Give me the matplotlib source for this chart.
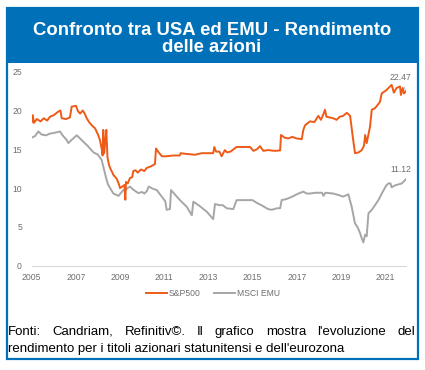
import matplotlib
matplotlib.use("Agg")
import matplotlib.pyplot as plt
from matplotlib.patches import Rectangle

plt.rcParams["font.family"] = ["Liberation Sans", "DejaVu Sans"]

# S&P500 earnings yield (decimal year, %)
sp_years = [2005.00, 2005.05, 2005.10, 2005.23, 2005.40, 2005.55, 2005.70, 2005.83,
            2006.00, 2006.20, 2006.30, 2006.36, 2006.55, 2006.73, 2006.81, 2007.00,
            2007.10, 2007.19, 2007.31, 2007.40, 2007.49, 2007.60, 2007.72, 2007.87,
            2008.00, 2008.09, 2008.18, 2008.21, 2008.24, 2008.28, 2008.33, 2008.38,
            2008.43, 2008.50, 2008.55, 2008.70, 2008.85, 2008.95, 2009.00, 2009.10,
            2009.20, 2009.24, 2009.27, 2009.35, 2009.45, 2009.55, 2009.60, 2009.70,
            2009.80, 2009.95, 2010.10, 2010.21, 2010.40, 2010.58, 2010.63, 2010.75,
            2010.90, 2011.10, 2011.40, 2011.70, 2011.75, 2012.02, 2012.40, 2012.70,
            2013.00, 2013.22, 2013.27, 2013.35, 2013.50, 2013.60, 2013.75, 2013.85,
            2014.00, 2014.28, 2014.60, 2014.89, 2015.04, 2015.20, 2015.34, 2015.49,
            2015.70, 2016.00, 2016.25, 2016.29, 2016.45, 2016.62, 2016.80, 2017.00,
            2017.23, 2017.30, 2017.38, 2017.60, 2017.80, 2017.98, 2018.10, 2018.22,
            2018.28, 2018.35, 2018.50, 2018.65, 2018.81, 2018.95, 2019.10, 2019.27,
            2019.42, 2019.54, 2019.64, 2019.80, 2019.95, 2020.05, 2020.10, 2020.17,
            2020.32, 2020.40, 2020.55, 2020.77, 2020.85, 2021.05, 2021.30, 2021.40,
            2021.52, 2021.68, 2021.72, 2021.80, 2021.86, 2021.94]
sp_vals = [18.5, 19.4, 18.4, 18.9, 18.6, 19.0, 18.7, 19.2,
           19.4, 19.85, 20.0, 19.0, 18.9, 19.1, 20.5, 20.6,
           19.9, 19.6, 20.0, 19.6, 19.0, 18.5, 18.1, 17.7,
           16.9, 16.2, 14.9, 14.2, 17.5, 14.5, 16.0, 17.5,
           14.0, 13.0, 12.6, 11.7, 11.2, 10.5, 10.0, 10.2,
           10.4, 8.5, 10.8, 10.6, 11.3, 11.4, 12.2, 12.3,
           12.0, 12.4, 12.2, 12.6, 12.8, 13.1, 15.1, 14.6,
           14.1, 14.1, 14.2, 14.2, 14.5, 14.4, 14.3, 14.5,
           14.5, 14.5, 15.3, 14.7, 14.7, 14.1, 14.9, 14.6,
           14.7, 15.3, 15.3, 15.3, 14.8, 15.0, 15.4, 14.8,
           14.9, 14.8, 14.85, 16.85, 16.5, 16.4, 16.6, 16.4,
           16.3, 17.5, 18.1, 18.6, 18.5, 19.3, 18.8, 19.6,
           20.1, 19.2, 19.1, 19.0, 18.8, 19.2, 19.3, 19.7,
           19.3, 16.6, 14.5, 14.6, 14.9, 15.5, 16.85, 15.8,
           17.9, 20.1, 20.3, 21.1, 22.2, 22.6, 23.3, 22.3,
           22.9, 23.1, 22.0, 22.9, 22.2, 22.47]

# MSCI EMU earnings yield (decimal year, %)
emu_years = [2005.00, 2005.15, 2005.30, 2005.45, 2005.65, 2005.80, 2005.98, 2006.15,
             2006.28, 2006.40, 2006.58, 2006.66, 2006.80, 2007.04, 2007.15, 2007.26,
             2007.40, 2007.55, 2007.64, 2007.80, 2007.87, 2008.00, 2008.10, 2008.17,
             2008.24, 2008.37, 2008.45, 2008.55, 2008.70, 2008.93, 2009.05, 2009.15,
             2009.30, 2009.45, 2009.60, 2009.83, 2010.00, 2010.10, 2010.21, 2010.30,
             2010.50, 2010.66, 2010.89, 2011.05, 2011.11, 2011.26, 2011.31, 2011.57,
             2011.80, 2012.02, 2012.25, 2012.32, 2012.60, 2012.93, 2013.22, 2013.30,
             2013.50, 2013.65, 2013.83, 2014.13, 2014.28, 2014.60, 2015.00, 2015.19,
             2015.40, 2015.70, 2015.87, 2016.10, 2016.25, 2016.32, 2016.55, 2016.80,
             2017.00, 2017.30, 2017.45, 2017.60, 2017.85, 2018.06, 2018.15, 2018.21,
             2018.30, 2018.66, 2018.90, 2019.11, 2019.34, 2019.49, 2019.64, 2019.75,
             2019.87, 2019.95, 2020.02, 2020.10, 2020.17, 2020.25, 2020.40, 2020.50,
             2020.70, 2020.90, 2021.05, 2021.15, 2021.25, 2021.30, 2021.45, 2021.76,
             2021.94]
emu_vals = [16.5, 16.7, 17.3, 16.9, 16.8, 17.0, 17.1, 17.2,
            17.3, 16.8, 16.2, 15.8, 16.2, 16.8, 16.5, 16.2,
            15.8, 15.4, 15.1, 14.6, 14.5, 14.3, 13.9, 13.6,
            12.8, 11.3, 10.5, 10.0, 9.3, 9.0, 9.4, 9.75,
            9.9, 10.2, 9.8, 9.35, 9.5, 9.3, 9.6, 10.2,
            9.9, 9.75, 8.9, 8.3, 7.2, 7.3, 9.75, 8.9,
            8.2, 7.6, 6.5, 8.25, 7.7, 6.95, 6.0, 7.95,
            7.8, 7.8, 7.4, 7.3, 8.45, 8.45, 8.45, 8.1,
            7.8, 7.3, 7.2, 7.4, 7.4, 8.45, 8.6, 8.9,
            9.2, 9.55, 9.3, 9.3, 9.4, 9.4, 9.4, 9.0,
            9.4, 9.3, 9.1, 8.9, 9.2, 7.6, 5.45, 5.0,
            4.2, 3.5, 3.0, 4.0, 3.8, 6.75, 7.2, 7.6,
            8.45, 9.55, 10.3, 10.6, 10.6, 10.1, 10.35, 10.6,
            11.12]

x_ticks = list(range(2005, 2022, 2))
y_ticks = [0, 5, 10, 15, 20, 25]

title = "Confronto tra USA ed EMU - Rendimento\ndelle azioni"
line1 = "Fonti: Candriam, Refinitiv©. Il grafico mostra l'evoluzione del"
line2 = "rendimento per i titoli azionari statunitensi e dell'eurozona"

W, H = 425, 370
BLUE = "#0070B8"
ORANGE = "#EE5A17"
GREY = "#A6A6A6"
TICK = "#6E6E6E"


def fx(px):
    return px / W


def fy(py):
    return 1 - py / H


fig = plt.figure(figsize=(W / 100, H / 100), dpi=100)

# header and frame
fig.add_artist(Rectangle((fx(6), fy(63)), fx(413), 55 / H, transform=fig.transFigure,
                         facecolor=BLUE, edgecolor="none"))
fig.add_artist(Rectangle((fx(7), fy(359)), fx(411), 351 / H, transform=fig.transFigure,
                         facecolor="none", edgecolor=BLUE, linewidth=1.6))
fig.text(fx(212), fy(39), title, ha="center", va="center", color="white",
         fontsize=13.3, fontweight="bold", linespacing=1.05)

ax = fig.add_axes([fx(31.7), fy(265.7), fx(406 - 31.7), 194 / H])
ax.plot(sp_years, sp_vals, color=ORANGE, lw=1.4, label="S&P500", zorder=3)
ax.plot(emu_years, emu_vals, color=GREY, lw=1.4, label="MSCI EMU", zorder=2)

ax.set_xlim(2005, 2021.95)
ax.set_ylim(0, 25)
ax.set_xticks(x_ticks)
ax.set_yticks(y_ticks)
ax.tick_params(length=0, labelsize=6.2, labelcolor=TICK)
ax.tick_params(axis="x", pad=5)
ax.tick_params(axis="y", pad=7)
for s in ["top", "right", "left"]:
    ax.spines[s].set_visible(False)
ax.spines["bottom"].set_color("#D9D9D9")
ax.spines["bottom"].set_linewidth(0.8)

# end-value labels
for yv, lab_y in [(sp_vals[-1], 24.3), (emu_vals[-1], 12.4)]:
    ax.annotate(f"{yv:.2f}", xy=(sp_years[-1], yv), xytext=(2021.7, lab_y),
                ha="center", va="center", fontsize=6.2, color=TICK,
                arrowprops=dict(arrowstyle="-", color=GREY, lw=0.5,
                                shrinkA=2, shrinkB=0))

fig.legend(loc="center", bbox_to_anchor=(fx(213), fy(294)), ncol=2, frameon=False,
           fontsize=6.2, labelcolor=TICK, handlelength=2.4, handletextpad=0.2,
           columnspacing=1.6)

# footer, first line justified
renderer = fig.canvas.get_renderer()
words = line1.split()
texts = [fig.text(0, fy(335), w, fontsize=9.5, color="black", va="baseline") for w in words]
widths = [t.get_window_extent(renderer).width for t in texts]
x0, x1 = 8, 415
gap = (x1 - x0 - sum(widths)) / (len(words) - 1)
pos = x0
for t, w in zip(texts, widths):
    t.set_x(fx(pos))
    pos += w + gap
fig.text(fx(8), fy(352), line2, fontsize=9.5, color="black", va="baseline")

fig.savefig("out.png", dpi=100)
